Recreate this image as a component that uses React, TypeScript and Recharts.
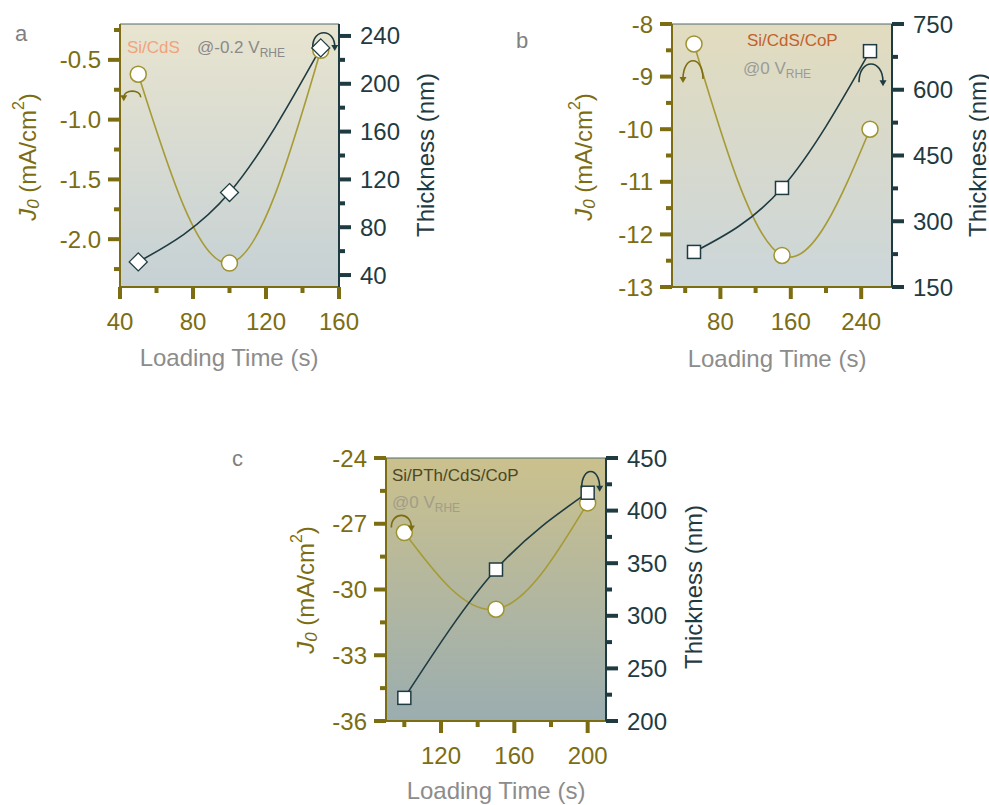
import React from 'react';
import {
  LineChart,
  Line,
  XAxis,
  YAxis,
  CartesianGrid,
  ReferenceLine,
  ReferenceDot,
} from 'recharts';

// panel a: Si/CdS
const timeA = [50, 100, 150];
const j0A = [-0.62, -2.2, -0.42];
const thickA = [51, 109, 230];
const xTicksA = [40, 80, 120, 160];
const xMinorA = [60, 100, 140];
const j0TicksA = [-2, -1.5, -1, -0.5];
const j0MinorA = [-2.25, -1.75, -1.25, -0.75, -0.25];
const thTicksA = [40, 80, 120, 160, 200, 240];
const thMinorA = [60, 100, 140, 180, 220];

// panel b: Si/CdS/CoP
const timeB = [50, 150, 250];
const j0B = [-8.38, -12.4, -10.0];
const thickB = [230, 376, 688];
const xTicksB = [80, 160, 240];
const xMinorB = [40, 120, 200];
const j0TicksB = [-13, -12, -11, -10, -9, -8];
const j0MinorB = [-12.5, -11.5, -10.5, -9.5, -8.5];
const thTicksB = [150, 300, 450, 600, 750];
const thMinorB = [225, 375, 525, 675];

// panel c: Si/PTh/CdS/CoP
const timeC = [100, 150, 200];
const j0C = [-27.4, -30.9, -26.05];
const thickC = [222, 344, 417];
const xTicksC = [120, 160, 200];
const xMinorC = [100, 140, 180];
const j0TicksC = [-36, -33, -30, -27, -24];
const j0MinorC = [-34.5, -31.5, -28.5, -25.5];
const thTicksC = [200, 250, 300, 350, 400, 450];
const thMinorC = [225, 275, 325, 375, 425];

const OLIVE = '#7d6d12';
const J0_LINE = '#a69b35';
const DARK = '#1f3b42';
const FONT = '"Liberation Sans", Arial, sans-serif';

function Tick(props: any) {
  const { x, y, payload, side, majors, color, digits } = props;
  const v = payload.value;
  const major = majors.some((m: number) => Math.abs(m - v) < 1e-6);
  const len = major ? 12 : 6;
  const label = v.toFixed(digits);
  if (side === 'left') {
    return (
      <g>
        <line x1={x} x2={x - len} y1={y} y2={y} stroke={color} strokeWidth={4} />
        {major && (
          <text x={x - 19} y={y} textAnchor="end" dominantBaseline="central" fill={color} fontSize={24} fontFamily={FONT}>
            {label}
          </text>
        )}
      </g>
    );
  }
  if (side === 'right') {
    return (
      <g>
        <line x1={x} x2={x + len} y1={y} y2={y} stroke={color} strokeWidth={4} />
        {major && (
          <text x={x + 21} y={y} textAnchor="start" dominantBaseline="central" fill={color} fontSize={24} fontFamily={FONT}>
            {label}
          </text>
        )}
      </g>
    );
  }
  return (
    <g>
      <line x1={x} x2={x} y1={y} y2={y + len} stroke={color} strokeWidth={4} />
      {major && (
        <text x={x} y={y + 34} textAnchor="middle" dominantBaseline="central" fill={color} fontSize={24} fontFamily={FONT}>
          {label}
        </text>
      )}
    </g>
  );
}

// small curved arrow pointing to the axis a series belongs to
function Arch(props: any) {
  const { cx, cy, dx, dy, w, h, head, color } = props;
  const x0 = cx + dx;
  const y0 = cy + dy;
  const xl = x0 - w / 2;
  const xr = x0 + w / 2;
  const yb = y0 + h / 2;
  const yc = y0 - h * 0.85;
  const ex = head === 'left' ? xl : xr;
  return (
    <g>
      <path d={`M${xl},${yb} C${xl},${yc} ${xr},${yc} ${xr},${yb}`} fill="none" stroke={color} strokeWidth={1.6} />
      <path d={`M${ex - 3.5},${yb - 2} L${ex + 3.5},${yb - 2} L${ex},${yb + 4} Z`} fill={color} />
    </g>
  );
}

type ArrowSpec = { x: number; y: number; axis: string; dx: number; dy: number; w: number; h: number; head: string; color: string };

function Panel(props: any) {
  const {
    id, left, top, width, height, leftW, rightW, topM, bottomH,
    time, j0, thick, xDomain, xTicks, xMinor, lDomain, lTicks, lMinor, lDigits,
    rDomain, rTicks, rMinor, gradTop, gradBottom, marker, arrows,
  } = props;
  const rows = time.map((t: number, i: number) => ({ t, j0: j0[i], th: thick[i] }));
  const allX = [...xTicks, ...xMinor].sort((a, b) => a - b);
  const allL = [...lTicks, ...lMinor].sort((a, b) => a - b);
  const allR = [...rTicks, ...rMinor].sort((a, b) => a - b);

  const circleDot = (p: any) => (
    <circle key={`c${p.index}`} cx={p.cx} cy={p.cy} r={8} fill="#fff" stroke="#9e9330" strokeWidth={1.5} />
  );
  const thickDot = (p: any) =>
    marker === 'diamond' ? (
      <polygon
        key={`d${p.index}`}
        points={`${p.cx},${p.cy - 9} ${p.cx + 9},${p.cy} ${p.cx},${p.cy + 9} ${p.cx - 9},${p.cy}`}
        fill="#fff"
        stroke={DARK}
        strokeWidth={1.3}
      />
    ) : (
      <rect key={`s${p.index}`} x={p.cx - 6.5} y={p.cy - 6.5} width={13} height={13} fill="#fff" stroke={DARK} strokeWidth={1.5} />
    );

  return (
    <div style={{ position: 'absolute', left, top, width, height }}>
      <LineChart width={width} height={height} data={rows} margin={{ top: topM, right: 0, bottom: 0, left: 0 }}>
        <defs>
          <linearGradient id={`bg-${id}`} x1="0" y1="0" x2="0" y2="1">
            <stop offset="0%" stopColor={gradTop} />
            <stop offset="100%" stopColor={gradBottom} />
          </linearGradient>
        </defs>
        <CartesianGrid fill={`url(#bg-${id})`} stroke="none" horizontal={false} vertical={false} />
        <XAxis
          dataKey="t"
          type="number"
          domain={xDomain}
          ticks={allX}
          interval={0}
          height={bottomH}
          tickSize={0}
          tickMargin={0}
          tickLine={false}
          axisLine={{ stroke: OLIVE, strokeWidth: 2 }}
          tick={(p: any) => <Tick {...p} side="bottom" majors={xTicks} color={OLIVE} digits={0} />}
        />
        <YAxis
          yAxisId="l"
          orientation="left"
          type="number"
          domain={lDomain}
          ticks={allL}
          interval={0}
          width={leftW}
          tickSize={0}
          tickMargin={0}
          tickLine={false}
          axisLine={{ stroke: OLIVE, strokeWidth: 2 }}
          tick={(p: any) => <Tick {...p} side="left" majors={lTicks} color={OLIVE} digits={lDigits} />}
        />
        <YAxis
          yAxisId="r"
          orientation="right"
          type="number"
          domain={rDomain}
          ticks={allR}
          interval={0}
          width={rightW}
          tickSize={0}
          tickMargin={0}
          tickLine={false}
          axisLine={{ stroke: DARK, strokeWidth: 2 }}
          tick={(p: any) => <Tick {...p} side="right" majors={rTicks} color={DARK} digits={0} />}
        />
        <ReferenceLine yAxisId="l" y={lDomain[1]} stroke="#4c6a70" strokeWidth={1} />
        <Line
          yAxisId="l"
          type="natural"
          dataKey="j0"
          stroke={J0_LINE}
          strokeWidth={1.6}
          dot={circleDot}
          isAnimationActive={false}
        />
        <Line
          yAxisId="r"
          type="natural"
          dataKey="th"
          stroke={DARK}
          strokeWidth={1.6}
          dot={thickDot}
          isAnimationActive={false}
        />
        {arrows.map((a: ArrowSpec, i: number) => (
          <ReferenceDot
            key={i}
            x={a.x}
            y={a.y}
            yAxisId={a.axis}
            shape={(p: any) => <Arch cx={p.cx} cy={p.cy} {...a} />}
          />
        ))}
      </LineChart>
    </div>
  );
}

function J0Title({ x, y }: { x: number; y: number }) {
  return (
    <text x={x} y={y} transform={`rotate(-90, ${x}, ${y})`} textAnchor="middle" dominantBaseline="central" fill={OLIVE} fontSize={24} fontFamily={FONT}>
      <tspan fontStyle="italic">J</tspan>
      <tspan fontStyle="italic" fontSize={17} dy={6}>0</tspan>
      <tspan dy={-6}> (mA/cm</tspan>
      <tspan fontSize={16} dy={-9}>2</tspan>
      <tspan dy={9}>)</tspan>
    </text>
  );
}

function VRhe({ x, y, pre, color }: { x: number; y: number; pre: string; color: string }) {
  return (
    <text x={x} y={y} dominantBaseline="central" fill={color} fontSize={17} fontFamily={FONT}>
      {pre}
      <tspan fontSize={12} dy={6}>RHE</tspan>
    </text>
  );
}

export default function App() {
  return (
    <div style={{ position: 'relative', width: 989, height: 805, background: '#fff', fontFamily: FONT }}>
      <style>{'body{margin:0}'}</style>
      <Panel
        id="a"
        left={0}
        top={0}
        width={400}
        height={380}
        leftW={120}
        rightW={61}
        topM={24}
        bottomH={93}
        time={timeA}
        j0={j0A}
        thick={thickA}
        xDomain={[40, 160]}
        xTicks={xTicksA}
        xMinor={xMinorA}
        lDomain={[-2.4, -0.2]}
        lTicks={j0TicksA}
        lMinor={j0MinorA}
        lDigits={1}
        rDomain={[30, 250]}
        rTicks={thTicksA}
        rMinor={thMinorA}
        gradTop="#e8e4cf"
        gradBottom="#c6d1d5"
        marker="diamond"
        arrows={[
          { x: 50, y: -0.62, axis: 'l', dx: -6, dy: 20, w: 17, h: 6, head: 'left', color: OLIVE },
          { x: 150, y: 230, axis: 'r', dx: 3, dy: -8, w: 22, h: 14, head: 'right', color: DARK },
        ]}
      />
      <Panel
        id="b"
        left={500}
        top={0}
        width={489}
        height={380}
        leftW={172}
        rightW={97}
        topM={24}
        bottomH={93}
        time={timeB}
        j0={j0B}
        thick={thickB}
        xDomain={[25, 275]}
        xTicks={xTicksB}
        xMinor={xMinorB}
        lDomain={[-13, -8]}
        lTicks={j0TicksB}
        lMinor={j0MinorB}
        lDigits={0}
        rDomain={[150, 750]}
        rTicks={thTicksB}
        rMinor={thMinorB}
        gradTop="#e2dcbf"
        gradBottom="#ccd6da"
        marker="square"
        arrows={[
          { x: 50, y: -8.38, axis: 'l', dx: -1, dy: 26, w: 20, h: 18, head: 'left', color: OLIVE },
          { x: 250, y: 688, axis: 'r', dx: 1, dy: 22, w: 24, h: 18, head: 'right', color: DARK },
        ]}
      />
      <Panel
        id="c"
        left={220}
        top={430}
        width={520}
        height={375}
        leftW={166}
        rightW={134}
        topM={28}
        bottomH={84}
        time={timeC}
        j0={j0C}
        thick={thickC}
        xDomain={[90, 210]}
        xTicks={xTicksC}
        xMinor={xMinorC}
        lDomain={[-36, -24]}
        lTicks={j0TicksC}
        lMinor={j0MinorC}
        lDigits={0}
        rDomain={[200, 450]}
        rTicks={thTicksC}
        rMinor={thMinorC}
        gradTop="#cbc18d"
        gradBottom="#9badb0"
        marker="square"
        arrows={[
          { x: 100, y: -27.4, axis: 'l', dx: -3, dy: -11, w: 20, h: 12, head: 'right', color: OLIVE },
          { x: 200, y: 417, axis: 'r', dx: 3, dy: -13, w: 18, h: 16, head: 'right', color: DARK },
        ]}
      />
      <svg width={989} height={805} style={{ position: 'absolute', left: 0, top: 0, pointerEvents: 'none' }}>
        <text x={15} y={33} dominantBaseline="central" fill="#808080" fontSize={22} fontFamily={FONT}>a</text>
        <text x={516} y={40} dominantBaseline="central" fill="#808080" fontSize={22} fontFamily={FONT}>b</text>
        <text x={232} y={458} dominantBaseline="central" fill="#808080" fontSize={22} fontFamily={FONT}>c</text>

        <J0Title x={27} y={157} />
        <J0Title x={583} y={157} />
        <J0Title x={305} y={590} />

        {[
          [425, 155],
          [977, 155],
          [693, 587],
        ].map(([x, y]) => (
          <text key={x} x={x} y={y} transform={`rotate(-90, ${x}, ${y})`} textAnchor="middle" dominantBaseline="central" fill={DARK} fontSize={24} fontFamily={FONT}>
            Thickness (nm)
          </text>
        ))}

        {[
          [229, 357],
          [777, 358],
          [496, 790],
        ].map(([x, y]) => (
          <text key={x} x={x} y={y} textAnchor="middle" dominantBaseline="central" fill="#8c8c8c" fontSize={24} fontFamily={FONT}>
            Loading Time (s)
          </text>
        ))}

        <text x={127} y={47} dominantBaseline="central" fill="#f2a27c" fontSize={17} fontFamily={FONT}>Si/CdS</text>
        <VRhe x={197} y={47} pre="@-0.2 V" color="#8a8a8a" />
        <text x={747} y={40} dominantBaseline="central" fill="#c2622c" fontSize={17} fontFamily={FONT}>Si/CdS/CoP</text>
        <VRhe x={743} y={68} pre="@0 V" color="#9a9a9a" />
        <text x={392} y={475} dominantBaseline="central" fill="#4d4824" fontSize={17} fontFamily={FONT}>Si/PTh/CdS/CoP</text>
        <VRhe x={392} y={502} pre="@0 V" color="#a29c88" />
      </svg>
    </div>
  );
}
